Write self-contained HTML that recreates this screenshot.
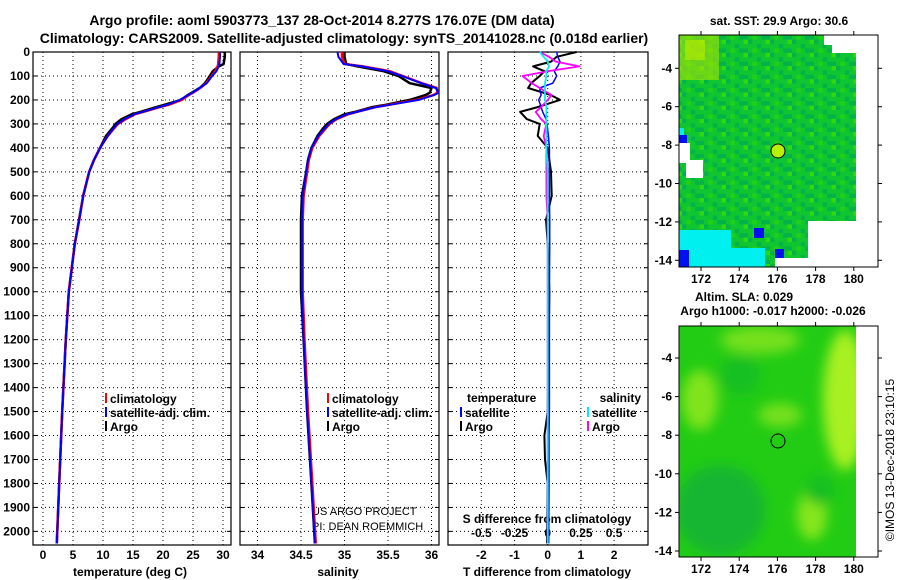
<!DOCTYPE html>
<html><head><meta charset="utf-8"><style>
body{margin:0;background:#fff;}
svg{display:block;font-family:"Liberation Sans",sans-serif;font-weight:bold;}
</style></head><body>
<svg id="chart" width="900" height="580" viewBox="0 0 900 580" xmlns="http://www.w3.org/2000/svg">
<defs>
<pattern id="p1" width="22" height="13.2" patternUnits="userSpaceOnUse">
<rect width="22" height="13.2" fill="#10c630"/><rect width="4.4" height="4.4" fill="#04b24a"/><rect x="8.8" y="4.4" width="4.4" height="4.4" fill="#04b24a"/><rect x="13.2" y="8.8" width="8.8" height="4.4" fill="#04b24a"/><rect x="4.4" y="8.8" width="4.4" height="4.4" fill="#22d018"/><rect x="17.6" y="0" width="4.4" height="4.4" fill="#30d810"/>
</pattern>
<filter id="bl"><feGaussianBlur stdDeviation="6"/></filter>
<clipPath id="c2"><rect x="679" y="326" width="177" height="231"/></clipPath>
</defs>
<text x="322" y="25" font-size="14" text-anchor="middle">Argo profile: aoml 5903773_137 28-Oct-2014 8.277S 176.07E (DM data)</text>
<text x="344" y="43" font-size="14" text-anchor="middle">Climatology: CARS2009. Satellite-adjusted climatology: synTS_20141028.nc (0.018d earlier)</text>
<g id="plots"></g>
<g id="maps">
<text x="779" y="25" font-size="12" text-anchor="middle">sat. SST: 29.9 Argo: 30.6</text>
<g>
<rect x="679" y="35" width="177" height="232" fill="url(#p1)"/>
<rect x="679" y="35" width="40" height="45" fill="#b8e800" opacity="0.55"/>
<rect x="685" y="40" width="20" height="20" fill="#c8f000" opacity="0.5"/>
<rect x="679" y="230" width="52" height="37" fill="#00f0f0"/>
<rect x="720" y="248" width="45" height="19" fill="#00f0f0"/>
<rect x="679" y="250" width="10" height="17" fill="#0010f0"/>
<rect x="754" y="228" width="10" height="10" fill="#0010f0"/>
<rect x="775" y="249" width="9" height="10" fill="#0010f0"/>
<rect x="679" y="128" width="5" height="8" fill="#00f0f0"/>
<rect x="679" y="135" width="8" height="8" fill="#0010f0"/>
<rect x="679" y="143" width="11" height="20" fill="#fff"/>
<rect x="686" y="160" width="17" height="18" fill="#fff"/>
<rect x="808" y="221" width="48" height="46" fill="#fff"/>
<rect x="775" y="258" width="37" height="9" fill="#fff"/>
<rect x="824" y="35" width="32" height="10" fill="#fff"/>
<rect x="832" y="45" width="24" height="8" fill="#fff"/>
<rect x="856" y="35" width="22" height="232" fill="#fff"/>
<circle cx="778" cy="151" r="7" fill="#b8f000" stroke="#000"/>
<rect x="679" y="35" width="199" height="232" fill="none" stroke="#000"/>
</g>
<text x="744" y="301" font-size="12" text-anchor="middle">Altim. SLA: 0.029</text>
<text x="773" y="315" font-size="12" text-anchor="middle">Argo h1000: -0.017 h2000: -0.026</text>
<g>
<rect x="679" y="326" width="177" height="231" fill="#22cc14"/>
<g clip-path="url(#c2)" filter="url(#bl)">
<ellipse cx="700" cy="400" rx="18" ry="30" fill="#80e41a"/>
<ellipse cx="760" cy="340" rx="40" ry="14" fill="#74e01a"/>
<ellipse cx="780" cy="415" rx="22" ry="12" fill="#74e01a"/>
<ellipse cx="845" cy="400" rx="22" ry="70" fill="#a8f020"/>
<ellipse cx="812" cy="515" rx="15" ry="25" fill="#86e61c"/>
<ellipse cx="720" cy="510" rx="45" ry="45" fill="#14b630"/>
<ellipse cx="740" cy="375" rx="20" ry="20" fill="#14bf20"/>
<ellipse cx="820" cy="490" rx="15" ry="15" fill="#14bf20"/>
</g>
<circle cx="778" cy="441" r="7" fill="none" stroke="#000"/>
<rect x="679" y="326" width="199" height="231" fill="none" stroke="#000"/>
</g>
<text transform="translate(894,460) rotate(-90)" font-size="12" font-weight="normal" text-anchor="middle">©IMOS 13-Dec-2018 23:10:15</text>
</g>
</svg>
<script>
const depths = [0,20,50,60,80,100,130,150,170,180,200,220,230,250,260,280,300,320,350,400,450,500,600,700,800,900,1000,1200,1500,1800,2050];
const tempClim = [29.3,29.3,29.2,29.1,28.7,28.1,27.2,26.2,25.0,24.3,23.1,21.0,19.5,16.7,15.3,13.8,12.5,11.8,10.8,9.5,8.5,7.7,6.7,6.05,5.3,4.8,4.3,3.8,3.2,2.7,2.3];
const tempSat = [29.5,29.5,29.4,29.3,28.9,28.2,27.3,26.1,24.9,24.2,22.8,20.8,19.3,16.6,15.2,13.6,12.4,11.7,10.8,9.5,8.5,7.7,6.7,6.05,5.3,4.8,4.3,3.8,3.2,2.7,2.3];
const tempArgo = [30.3,30.3,30.1,29.3,28.3,27.8,27.0,26.1,24.8,24.1,23.0,20.3,18.9,16.2,14.8,13.1,12.1,11.5,10.5,9.5,8.5,7.7,6.7,6.0,5.3,4.8,4.3,3.8,3.2,2.7,2.3];
const salClim = [34.97,34.97,35.0,35.21,35.52,35.67,35.89,36.06,36.07,36.02,35.83,35.52,35.36,35.14,35.04,34.91,34.83,34.78,34.71,34.63,34.59,34.57,34.53,34.52,34.52,34.52,34.52,34.54,34.58,34.63,34.67];
const salSat = [34.92,34.93,34.99,35.2,35.5,35.66,35.88,36.05,36.08,36.03,35.85,35.53,35.36,35.14,35.03,34.9,34.82,34.77,34.7,34.62,34.58,34.56,34.52,34.51,34.51,34.51,34.51,34.53,34.57,34.62,34.66];
const salArgo = [35.0,35.0,35.02,35.15,35.45,35.62,35.75,36.0,35.98,35.93,35.75,35.48,35.32,35.12,35.0,34.88,34.8,34.75,34.69,34.62,34.58,34.56,34.51,34.5,34.5,34.5,34.5,34.53,34.57,34.62,34.66];
const diffDepths = [0,20,40,60,80,100,130,150,180,200,230,250,280,300,350,400,500,600,700,800,1000,1500,1600,1700,1800,2050];
const tDiffArgo = [0.87,0.27,0.1,-0.44,-0.1,-0.24,-0.5,-0.59,0.1,0.37,-0.3,-0.83,-0.63,-0.24,-0.3,0,0.1,0.12,-0.05,0,0.05,0,-0.1,-0.08,0,-0.02];
const tDiffSat = [0.27,0.3,0.37,0.3,0.2,0.27,0.15,-0.24,-0.2,-0.27,-0.2,-0.15,-0.05,-0.02,0.02,0.05,0.05,0.05,0.06,0.06,0.05,0.05,0.04,0.04,0.04,0.03];
const sDiffArgo = [-0.06,0.01,0.06,0.24,0.0,-0.19,-0.12,-0.06,0.03,0.0,-0.05,-0.09,-0.05,-0.01,-0.03,-0.01,-0.01,-0.01,0,0,0,0,0,0,0,0];
const sDiffSat = [-0.06,-0.03,0,0.01,-0.01,-0.01,-0.02,-0.02,-0.02,-0.02,-0.01,-0.01,-0.01,-0.01,-0.01,-0.01,0,0,0,0,0,0,0,0,0,0];
const depthTicks = [0,100,200,300,400,500,600,700,800,900,1000,1100,1200,1300,1400,1500,1600,1700,1800,1900,2000];
const tempTicks = [0,5,10,15,20,25,30];
const salTicks = [34,34.5,35,35.5,36];
const tdTicks = [-2,-1,0,1,2];
const sdTicks = [-0.5,-0.25,0,0.25,0.5];
const sdTickLabels = ["-0.5","-0.25","0","0.25","0.5"];
const lonTicks = [172,174,176,178,180];
const latTicks = [-4,-6,-8,-10,-12,-14];

const NS="http://www.w3.org/2000/svg";
const root=document.getElementById('plots');
function el(tag,attrs,parent){const e=document.createElementNS(NS,tag);for(const k in attrs)e.setAttribute(k,attrs[k]);(parent||root).appendChild(e);return e;}
function txt(s,x,y,anchor,size,parent){const t=el('text',{x:x,y:y,'text-anchor':anchor||'middle','font-size':size||12},parent);t.textContent=s;return t;}
const yD=d=>52+d*0.2397;
const xT=v=>43+v*6;
const xS=v=>257.5+(v-34)*87;
const xTd=v=>547.7+v*33.2;
const xSd=v=>547.7+v*132.8;
const TOP=52,BOT=545;
const panels=[{l:33,r:231},{l:240,r:439},{l:448,r:648}];

panels.forEach((p,i)=>{
  const g=el('g',{});
  
  
  depthTicks.forEach(d=>{ if(d>0){ el('line',{x1:p.l,x2:p.r,y1:yD(d),y2:yD(d),stroke:'#000','stroke-dasharray':'1,3'},g);} 
    el('line',{x1:p.l,x2:p.l+4,y1:yD(d),y2:yD(d),stroke:'#000'},g);
    el('line',{x1:p.r-4,x2:p.r,y1:yD(d),y2:yD(d),stroke:'#000'},g);});
  const vt = i==0?tempTicks.map(xT):i==1?salTicks.map(xS):tdTicks.map(xTd);
  vt.forEach(x=>{el('line',{x1:x,x2:x,y1:TOP,y2:BOT,stroke:'#000','stroke-dasharray':'1,3'},g);});
  el('rect',{x:p.l,y:TOP,width:p.r-p.l,height:BOT-TOP,fill:'none',stroke:'#000','stroke-width':1.2},g);
});
const yl=el('g',{});


depthTicks.forEach(d=>{txt(String(d),30,yD(d)+4,'end',12,yl);});
tempTicks.forEach(v=>{const t=txt(String(v),xT(v),559,'middle',12);});
salTicks.forEach(v=>{const t=txt(String(v),xS(v),559,'middle',12);});
tdTicks.forEach(v=>{const t=txt(String(v),xTd(v),559,'middle',12);});
sdTicks.forEach((v,i)=>{const t=txt(sdTickLabels[i],xSd(v),537,'middle',12);});
let t;
t=txt('temperature (deg C)',130,576,'middle',12);
t=txt('salinity',338,576,'middle',12);
t=txt('T difference from climatology',547,576,'middle',12);
t=txt('S difference from climatology',547,523,'middle',12);
t=txt('US ARGO PROJECT',312,515,'start',11);t.setAttribute('font-weight','normal');
t=txt('PI: DEAN ROEMMICH',312,530,'start',11);t.setAttribute('font-weight','normal');

function line(ds,vals,xf,color,w,name){
  const pts=ds.map((d,i)=>xf(vals[i]).toFixed(1)+','+yD(d).toFixed(1)).join(' ');
  const p=el('polyline',{points:pts,fill:'none',stroke:color,'stroke-width':w,'stroke-linejoin':'round'});
  
  
}
line(depths,tempArgo,xT,'#000',2.5,'temp-argo-line');
line(depths,tempClim,xT,'#f00',2.5,'temp-climatology-line');
line(depths,tempSat,xT,'#00f',2,'temp-satellite-line');
line(depths,salArgo,xS,'#000',2.5,'sal-argo-line');
line(depths,salClim,xS,'#f00',2.5,'sal-climatology-line');
line(depths,salSat,xS,'#00f',2,'sal-satellite-line');
line(diffDepths,tDiffArgo,xTd,'#000',2,'tdiff-argo-line');
line(diffDepths,tDiffSat,xTd,'#00f',1.5,'tdiff-satellite-line');
line(diffDepths,sDiffArgo,xSd,'#f0f',1.8,'sdiff-argo-line');
line(diffDepths,sDiffSat,xSd,'#0ee',1.8,'sdiff-satellite-line');

function legend(x,y,color,label,name){
  const g=el('g',{});
  
  
  el('line',{x1:x,x2:x,y1:y-10,y2:y,stroke:color,'stroke-width':2},g);
  txt(label,x+4,y,'start',12,g);
}
legend(106,403,'#f00','climatology','legend-temp-climatology');
legend(106,417,'#00f','satellite-adj. clim.','legend-temp-satellite');
legend(106,431,'#000','Argo','legend-temp-argo');
legend(328,403,'#f00','climatology','legend-sal-climatology');
legend(328,417,'#00f','satellite-adj. clim.','legend-sal-satellite');
legend(328,431,'#000','Argo','legend-sal-argo');
t=txt('temperature',467,402,'start',12);
legend(461,417,'#00f','satellite','legend-tdiff-satellite');
legend(461,431,'#000','Argo','legend-tdiff-argo');
t=txt('salinity',641,402,'end',12);
legend(588,417,'#0ee','satellite','legend-sdiff-satellite');
legend(588,431,'#f0f','Argo','legend-sdiff-argo');

function mapAxes(top,bot,latY){
  const g=el('g',{},document.getElementById('maps'));
  
  
  lonTicks.forEach(lon=>{const x=701+(lon-172)*19.1;
    el('line',{x1:x,x2:x,y1:bot,y2:bot+4,stroke:'#000'},g);
    el('line',{x1:x,x2:x,y1:top-4,y2:top,stroke:'#000'},g);
    txt(String(lon),x,bot+16,'middle',12,g);});
  latTicks.forEach(lat=>{const y=latY(lat);
    el('line',{x1:675,x2:679,y1:y,y2:y,stroke:'#000'},g);
    el('line',{x1:878,x2:882,y1:y,y2:y,stroke:'#000'},g);
    txt(String(lat),672,y+4,'end',12,g);});
}
mapAxes(35,267,lat=>68.3+(-4-lat)*19.2);
mapAxes(326,557,lat=>358+(-4-lat)*19.3);
</script>
</body></html>
